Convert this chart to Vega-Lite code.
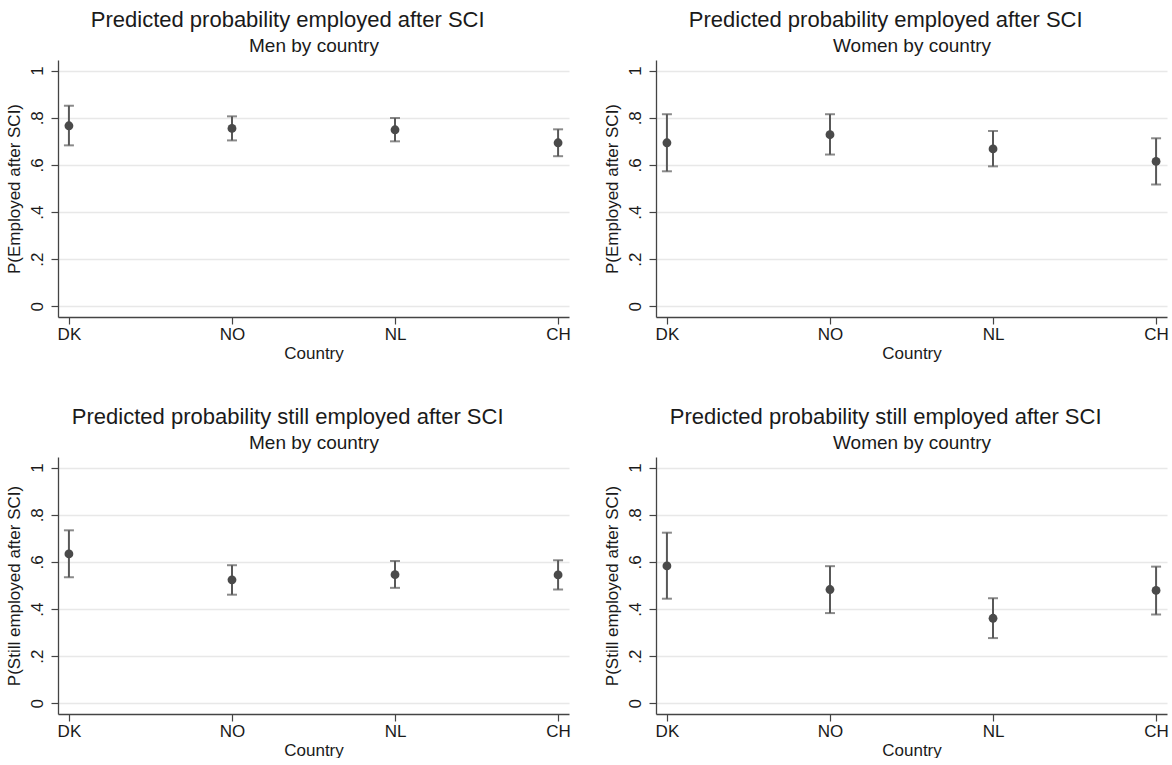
{
  "$schema": "https://vega.github.io/schema/vega-lite/v6.json",
  "background": "white",
  "padding": {"left": 5, "top": 9, "right": 0, "bottom": 0},
  "datasets": {
    "d": [
      {"panel": "A", "country": "DK", "p": 0.766, "lo": 0.683, "hi": 0.851},
      {"panel": "A", "country": "NO", "p": 0.755, "lo": 0.704, "hi": 0.806},
      {"panel": "A", "country": "NL", "p": 0.749, "lo": 0.700, "hi": 0.799},
      {"panel": "A", "country": "CH", "p": 0.694, "lo": 0.637, "hi": 0.751},
      {"panel": "B", "country": "DK", "p": 0.694, "lo": 0.573, "hi": 0.815},
      {"panel": "B", "country": "NO", "p": 0.728, "lo": 0.644, "hi": 0.815},
      {"panel": "B", "country": "NL", "p": 0.668, "lo": 0.594, "hi": 0.744},
      {"panel": "B", "country": "CH", "p": 0.615, "lo": 0.517, "hi": 0.713},
      {"panel": "C", "country": "DK", "p": 0.634, "lo": 0.535, "hi": 0.734},
      {"panel": "C", "country": "NO", "p": 0.524, "lo": 0.461, "hi": 0.586},
      {"panel": "C", "country": "NL", "p": 0.546, "lo": 0.490, "hi": 0.604},
      {"panel": "C", "country": "CH", "p": 0.545, "lo": 0.483, "hi": 0.607},
      {"panel": "D", "country": "DK", "p": 0.583, "lo": 0.444, "hi": 0.724},
      {"panel": "D", "country": "NO", "p": 0.483, "lo": 0.383, "hi": 0.582},
      {"panel": "D", "country": "NL", "p": 0.361, "lo": 0.277, "hi": 0.446},
      {"panel": "D", "country": "CH", "p": 0.479, "lo": 0.377, "hi": 0.580}
    ]
  },
  "config": {
    "view": {"stroke": null},
    "font": "Liberation Sans",
    "title": {"font": "Liberation Sans", "fontSize": 22, "fontWeight": "normal", "color": "#1a1a1a", "anchor": "middle", "frame": "bounds", "offset": 4},
    "axis": {"domainColor": "#444444", "domainWidth": 1.3, "tickColor": "#444444", "tickWidth": 1.2, "tickSize": 7, "labelFont": "Liberation Sans", "labelFontSize": 17, "labelColor": "#1a1a1a", "titleFont": "Liberation Sans", "titleFontSize": 17, "titleColor": "#1a1a1a", "titleFontWeight": "normal", "gridColor": "#e8e8e8", "gridWidth": 1.3},
    "axisX": {"grid": false, "labelAngle": 0, "labelPadding": 2, "titlePadding": 3},
    "axisY": {"labelAngle": -90, "labelPadding": 5, "titlePadding": 5}
  },
  "columns": 2,
  "spacing": {"row": 45, "column": 32},
  "concat": [
    {
      "title": "Predicted probability employed after SCI",
      "width": 511, "height": 257,
      "data": {"name": "d"},
      "transform": [{"filter": "datum.panel == 'A'"}],
      "resolve": {"axis": {"x": "independent"}},
      "layer": [
        {"mark": {"type": "rule", "color": "#585858", "strokeWidth": 2}, "encoding": {"x": {"field": "country", "type": "ordinal", "sort": ["DK", "NO", "NL", "CH"], "scale": {"type": "point", "padding": 0.067}, "title": "Men by country", "axis": {"orient": "top", "labels": false, "ticks": false, "domain": false, "titleFontSize": 19, "titlePadding": 5}}, "y": {"field": "lo", "type": "quantitative", "title": "P(Employed after SCI)", "scale": {"domain": [-0.045, 1.045], "nice": false, "zero": false}, "axis": {"values": [0, 0.2, 0.4, 0.6, 0.8, 1], "labelExpr": "datum.value == 0 ? '0' : datum.value == 1 ? '1' : replace(format(datum.value, '.1f'), '0.', '.')"}}, "y2": {"field": "hi"}}},
        {"mark": {"type": "tick", "orient": "horizontal", "size": 10, "thickness": 2, "color": "#585858"}, "encoding": {"x": {"field": "country", "type": "ordinal", "sort": ["DK", "NO", "NL", "CH"], "title": "Country"}, "y": {"field": "lo", "type": "quantitative", "title": "P(Employed after SCI)"}}},
        {"mark": {"type": "tick", "orient": "horizontal", "size": 10, "thickness": 2, "color": "#585858"}, "encoding": {"x": {"field": "country", "type": "ordinal", "sort": ["DK", "NO", "NL", "CH"], "axis": null}, "y": {"field": "hi", "type": "quantitative", "title": "P(Employed after SCI)"}}},
        {"mark": {"type": "point", "filled": true, "size": 78, "color": "#4a4a4a", "opacity": 1}, "encoding": {"x": {"field": "country", "type": "ordinal", "sort": ["DK", "NO", "NL", "CH"], "axis": null}, "y": {"field": "p", "type": "quantitative", "title": "P(Employed after SCI)"}}}
      ]
    },
    {
      "title": "Predicted probability employed after SCI",
      "width": 511, "height": 257,
      "data": {"name": "d"},
      "transform": [{"filter": "datum.panel == 'B'"}],
      "resolve": {"axis": {"x": "independent"}},
      "layer": [
        {"mark": {"type": "rule", "color": "#585858", "strokeWidth": 2}, "encoding": {"x": {"field": "country", "type": "ordinal", "sort": ["DK", "NO", "NL", "CH"], "scale": {"type": "point", "padding": 0.067}, "title": "Women by country", "axis": {"orient": "top", "labels": false, "ticks": false, "domain": false, "titleFontSize": 19, "titlePadding": 5}}, "y": {"field": "lo", "type": "quantitative", "title": "P(Employed after SCI)", "scale": {"domain": [-0.045, 1.045], "nice": false, "zero": false}, "axis": {"values": [0, 0.2, 0.4, 0.6, 0.8, 1], "labelExpr": "datum.value == 0 ? '0' : datum.value == 1 ? '1' : replace(format(datum.value, '.1f'), '0.', '.')"}}, "y2": {"field": "hi"}}},
        {"mark": {"type": "tick", "orient": "horizontal", "size": 10, "thickness": 2, "color": "#585858"}, "encoding": {"x": {"field": "country", "type": "ordinal", "sort": ["DK", "NO", "NL", "CH"], "title": "Country"}, "y": {"field": "lo", "type": "quantitative", "title": "P(Employed after SCI)"}}},
        {"mark": {"type": "tick", "orient": "horizontal", "size": 10, "thickness": 2, "color": "#585858"}, "encoding": {"x": {"field": "country", "type": "ordinal", "sort": ["DK", "NO", "NL", "CH"], "axis": null}, "y": {"field": "hi", "type": "quantitative", "title": "P(Employed after SCI)"}}},
        {"mark": {"type": "point", "filled": true, "size": 78, "color": "#4a4a4a", "opacity": 1}, "encoding": {"x": {"field": "country", "type": "ordinal", "sort": ["DK", "NO", "NL", "CH"], "axis": null}, "y": {"field": "p", "type": "quantitative", "title": "P(Employed after SCI)"}}}
      ]
    },
    {
      "title": "Predicted probability still employed after SCI",
      "width": 511, "height": 257,
      "data": {"name": "d"},
      "transform": [{"filter": "datum.panel == 'C'"}],
      "resolve": {"axis": {"x": "independent"}},
      "layer": [
        {"mark": {"type": "rule", "color": "#585858", "strokeWidth": 2}, "encoding": {"x": {"field": "country", "type": "ordinal", "sort": ["DK", "NO", "NL", "CH"], "scale": {"type": "point", "padding": 0.067}, "title": "Men by country", "axis": {"orient": "top", "labels": false, "ticks": false, "domain": false, "titleFontSize": 19, "titlePadding": 5}}, "y": {"field": "lo", "type": "quantitative", "title": "P(Still employed after SCI)", "scale": {"domain": [-0.045, 1.045], "nice": false, "zero": false}, "axis": {"values": [0, 0.2, 0.4, 0.6, 0.8, 1], "labelExpr": "datum.value == 0 ? '0' : datum.value == 1 ? '1' : replace(format(datum.value, '.1f'), '0.', '.')"}}, "y2": {"field": "hi"}}},
        {"mark": {"type": "tick", "orient": "horizontal", "size": 10, "thickness": 2, "color": "#585858"}, "encoding": {"x": {"field": "country", "type": "ordinal", "sort": ["DK", "NO", "NL", "CH"], "title": "Country"}, "y": {"field": "lo", "type": "quantitative", "title": "P(Still employed after SCI)"}}},
        {"mark": {"type": "tick", "orient": "horizontal", "size": 10, "thickness": 2, "color": "#585858"}, "encoding": {"x": {"field": "country", "type": "ordinal", "sort": ["DK", "NO", "NL", "CH"], "axis": null}, "y": {"field": "hi", "type": "quantitative", "title": "P(Still employed after SCI)"}}},
        {"mark": {"type": "point", "filled": true, "size": 78, "color": "#4a4a4a", "opacity": 1}, "encoding": {"x": {"field": "country", "type": "ordinal", "sort": ["DK", "NO", "NL", "CH"], "axis": null}, "y": {"field": "p", "type": "quantitative", "title": "P(Still employed after SCI)"}}}
      ]
    },
    {
      "title": "Predicted probability still employed after SCI",
      "width": 511, "height": 257,
      "data": {"name": "d"},
      "transform": [{"filter": "datum.panel == 'D'"}],
      "resolve": {"axis": {"x": "independent"}},
      "layer": [
        {"mark": {"type": "rule", "color": "#585858", "strokeWidth": 2}, "encoding": {"x": {"field": "country", "type": "ordinal", "sort": ["DK", "NO", "NL", "CH"], "scale": {"type": "point", "padding": 0.067}, "title": "Women by country", "axis": {"orient": "top", "labels": false, "ticks": false, "domain": false, "titleFontSize": 19, "titlePadding": 5}}, "y": {"field": "lo", "type": "quantitative", "title": "P(Still employed after SCI)", "scale": {"domain": [-0.045, 1.045], "nice": false, "zero": false}, "axis": {"values": [0, 0.2, 0.4, 0.6, 0.8, 1], "labelExpr": "datum.value == 0 ? '0' : datum.value == 1 ? '1' : replace(format(datum.value, '.1f'), '0.', '.')"}}, "y2": {"field": "hi"}}},
        {"mark": {"type": "tick", "orient": "horizontal", "size": 10, "thickness": 2, "color": "#585858"}, "encoding": {"x": {"field": "country", "type": "ordinal", "sort": ["DK", "NO", "NL", "CH"], "title": "Country"}, "y": {"field": "lo", "type": "quantitative", "title": "P(Still employed after SCI)"}}},
        {"mark": {"type": "tick", "orient": "horizontal", "size": 10, "thickness": 2, "color": "#585858"}, "encoding": {"x": {"field": "country", "type": "ordinal", "sort": ["DK", "NO", "NL", "CH"], "axis": null}, "y": {"field": "hi", "type": "quantitative", "title": "P(Still employed after SCI)"}}},
        {"mark": {"type": "point", "filled": true, "size": 78, "color": "#4a4a4a", "opacity": 1}, "encoding": {"x": {"field": "country", "type": "ordinal", "sort": ["DK", "NO", "NL", "CH"], "axis": null}, "y": {"field": "p", "type": "quantitative", "title": "P(Still employed after SCI)"}}}
      ]
    }
  ]
}
